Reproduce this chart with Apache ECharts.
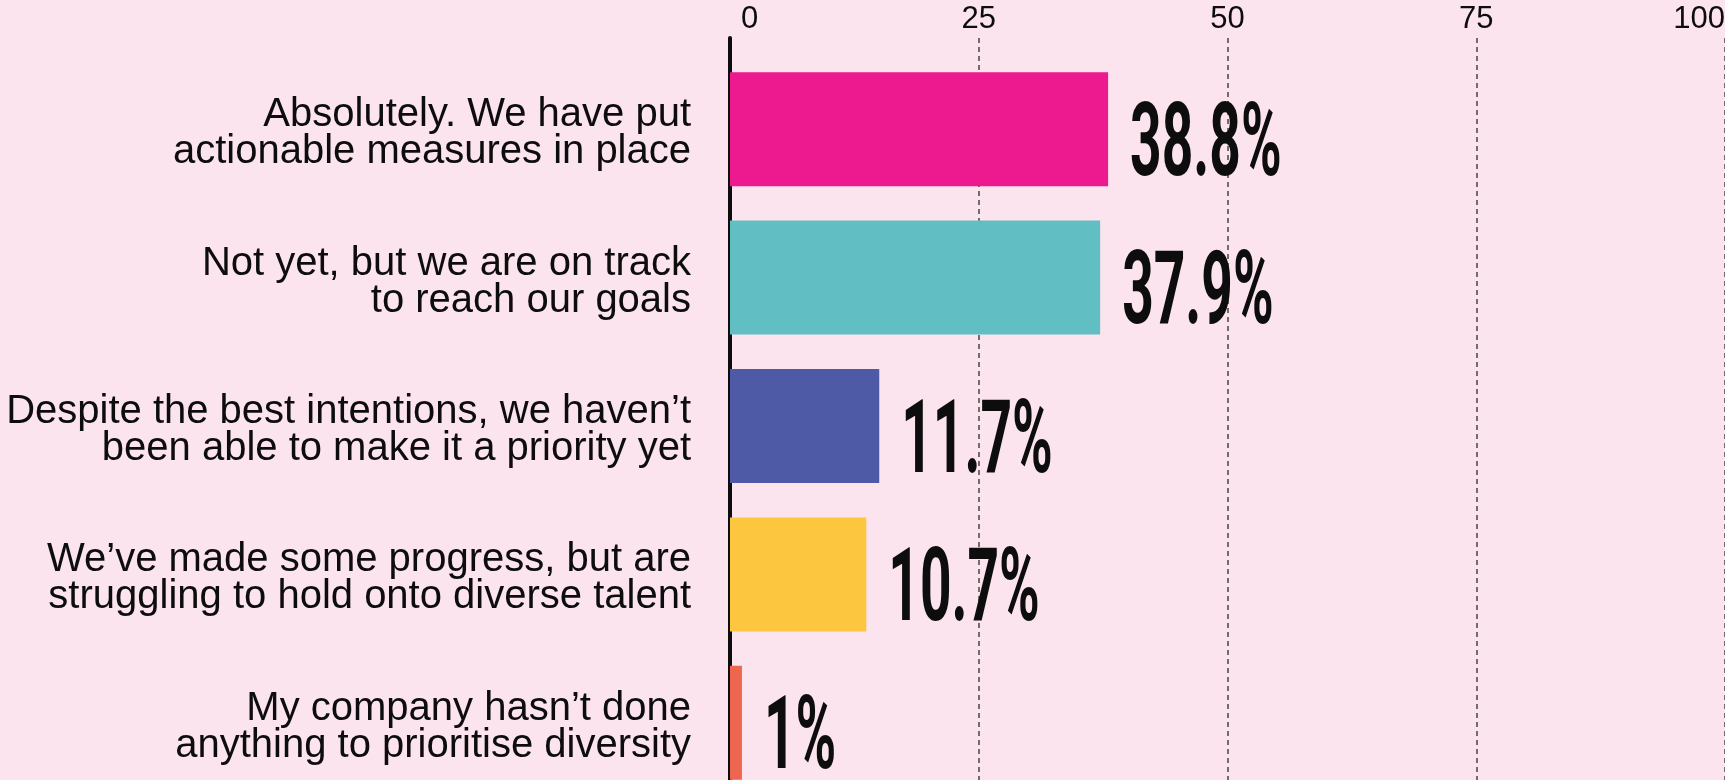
<!DOCTYPE html>
<html>
<head>
<meta charset="utf-8">
<title>Diversity priorities</title>
<script src="https://cdn.jsdelivr.net/npm/echarts@6/dist/echarts.min.js"></script>
<style>
  html, body { margin: 0; padding: 0; background: #fce4ee; }
  #chart { width: 1725px; height: 780px; }
</style>
</head>
<body>
<div id="chart"></div>
<script>
const categories = [
  'Absolutely. We have put\nactionable measures in place',
  'Not yet, but we are on track\nto reach our goals',
  'Despite the best intentions, we haven\u2019t\nbeen able to make it a priority yet',
  'We\u2019ve made some progress, but are\nstruggling to hold onto diverse talent',
  'My company hasn\u2019t done\nanything to prioritise diversity'
];
// bar lengths as drawn in the picture, on the 0-100 axis
const barLengths = [38.0, 37.2, 15.0, 13.7, 1.2];
// percentages printed next to the bars
const shares = [38.8, 37.9, 11.7, 10.7, 1];
const barColors = ['#ec1a8e', '#61bfc4', '#4e5aa5', '#fcc73f', '#ee6650'];
const tickValues = [0, 25, 50, 75, 100];

const chart = echarts.init(document.getElementById('chart'));

const bg = '#fce4ee';
const ink = '#0d0d0d';
const labelFont = { color: ink, fontFamily: 'Liberation Sans', fontSize: 40, lineHeight: 37 };

chart.setOption({
  backgroundColor: bg,
  animation: false,
  grid: [
    { left: 730, right: 0, top: 38, bottom: 0, outerBoundsMode: 'none' },
    // last band runs past the bottom edge, as in the original
    { left: 730, right: 0, top: 55, height: 742, outerBoundsMode: 'none' }
  ],
  xAxis: [
    {
      gridIndex: 0,
      type: 'value',
      position: 'top',
      min: tickValues[0],
      max: tickValues[tickValues.length - 1],
      interval: 25,
      axisLine: { show: false },
      axisTick: { show: false },
      axisLabel: {
        color: ink,
        fontFamily: 'Liberation Sans',
        fontSize: 31,
        margin: 3,
        alignMinLabel: 'left',
        alignMaxLabel: 'right',
        formatter: (v) => (v === 0 ? '{first|0}' : String(v)),
        rich: {
          first: {
            color: ink,
            fontFamily: 'Liberation Sans',
            fontSize: 31,
            padding: [0, 0, 0, 11]
          }
        }
      },
      splitLine: {
        show: true,
        lineStyle: { color: '#444', width: 1.5, type: [5, 4] }
      }
    },
    {
      gridIndex: 1,
      type: 'value',
      min: 0,
      max: 100,
      show: false
    }
  ],
  yAxis: [
    {
      gridIndex: 0,
      type: 'value',
      min: 0,
      max: 1,
      axisLine: { show: true, lineStyle: { color: ink, width: 4 } },
      axisTick: { show: false },
      axisLabel: { show: false },
      splitLine: { show: false }
    },
    {
      gridIndex: 1,
      type: 'category',
      inverse: true,
      data: categories,
      axisLine: { show: false },
      axisTick: { show: false },
      axisLabel: {
        ...labelFont,
        align: 'right',
        margin: 39,
        // small spacer line on top nudges the two text lines down a little
        formatter: (v) => '{s| }\n' + v.split('\n').map((l) => '{t|' + l + '}').join('\n'),
        rich: {
          s: { fontSize: 1, lineHeight: 9 },
          t: { ...labelFont, align: 'right' }
        }
      }
    }
  ],
  series: [
    {
      type: 'bar',
      xAxisIndex: 1,
      yAxisIndex: 1,
      barWidth: 114,
      data: barLengths.map((v, i) => ({ value: v, itemStyle: { color: barColors[i] } }))
    },
    {
      type: 'custom',
      xAxisIndex: 1,
      yAxisIndex: 1,
      data: barLengths.map((v, i) => [v, i, shares[i]]),
      renderItem: (params, api) => {
        const p = api.coord([api.value(0), api.value(1)]);
        return {
          type: 'text',
          x: p[0] + 22,
          y: p[1] + 20,
          scaleX: 0.54,
          style: {
            text: api.value(2) + '%',
            font: 'bold 102px Roboto',
            fill: ink,
            align: 'left',
            verticalAlign: 'middle'
          }
        };
      }
    }
  ]
});
</script>
</body>
</html>
